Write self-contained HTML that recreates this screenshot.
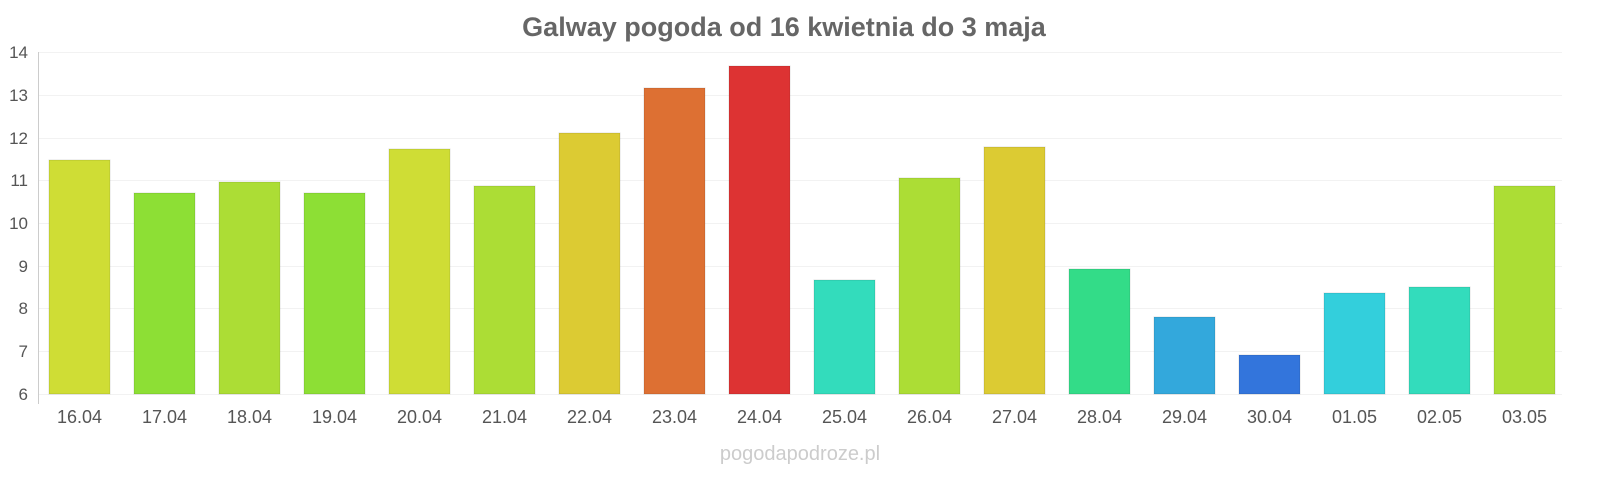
<!DOCTYPE html>
<html><head><meta charset="utf-8"><style>
body{margin:0;background:#fff;}
svg{display:block;font-family:"Liberation Sans",sans-serif;}
</style></head><body>
<svg width="1600" height="480" viewBox="0 0 1600 480">
<text x="784" y="36" text-anchor="middle" font-size="27" font-weight="bold" fill="#666">Galway pogoda od 16 kwietnia do 3 maja</text>
<g stroke="#f2f2f2" stroke-width="1">
<line x1="38" x2="1562" y1="52.5" y2="52.5"/><line x1="38" x2="1562" y1="95.5" y2="95.5"/>
<line x1="38" x2="1562" y1="138.5" y2="138.5"/><line x1="38" x2="1562" y1="180.5" y2="180.5"/>
<line x1="38" x2="1562" y1="223.5" y2="223.5"/><line x1="38" x2="1562" y1="266.5" y2="266.5"/>
<line x1="38" x2="1562" y1="308.5" y2="308.5"/><line x1="38" x2="1562" y1="351.5" y2="351.5"/>
<line x1="38" x2="1562" y1="394.5" y2="394.5"/>
</g>
<line x1="38.5" x2="38.5" y1="52" y2="404" stroke="#ccc"/>
<g font-size="17" fill="#555" text-anchor="end">
<text x="28" y="58">14</text><text x="28" y="101">13</text><text x="28" y="144">12</text>
<text x="28" y="186">11</text><text x="28" y="229">10</text><text x="28" y="272">9</text>
<text x="28" y="314">8</text><text x="28" y="357">7</text><text x="28" y="400">6</text>
</g>
<g stroke="rgba(0,0,0,0.12)" stroke-width="1">
<rect x="49" y="160" width="61" height="234" fill="#cfdd35"/>
<rect x="134" y="193" width="61" height="201" fill="#8ddf35"/>
<rect x="219" y="182" width="61" height="212" fill="#acdd35"/>
<rect x="304" y="193" width="61" height="201" fill="#8ddf35"/>
<rect x="389" y="149" width="61" height="245" fill="#cfdd35"/>
<rect x="474" y="186" width="61" height="208" fill="#acdd35"/>
<rect x="559" y="133" width="61" height="261" fill="#dccb33"/>
<rect x="644" y="88" width="61" height="306" fill="#dd7033"/>
<rect x="729" y="66" width="61" height="328" fill="#dd3333"/>
<rect x="814" y="280" width="61" height="114" fill="#33dcbc"/>
<rect x="899" y="178" width="61" height="216" fill="#acdd35"/>
<rect x="984" y="147" width="61" height="247" fill="#dccb33"/>
<rect x="1069" y="269" width="61" height="125" fill="#33dc88"/>
<rect x="1154" y="317" width="61" height="77" fill="#33a8dc"/>
<rect x="1239" y="355" width="61" height="39" fill="#3375dc"/>
<rect x="1324" y="293" width="61" height="101" fill="#33cfdc"/>
<rect x="1409" y="287" width="61" height="107" fill="#33dcbc"/>
<rect x="1494" y="186" width="61" height="208" fill="#acdd35"/>
</g>
<g font-size="18" fill="#555" text-anchor="middle">
<text x="79.5" y="423">16.04</text><text x="164.5" y="423">17.04</text><text x="249.5" y="423">18.04</text>
<text x="334.5" y="423">19.04</text><text x="419.5" y="423">20.04</text><text x="504.5" y="423">21.04</text>
<text x="589.5" y="423">22.04</text><text x="674.5" y="423">23.04</text><text x="759.5" y="423">24.04</text>
<text x="844.5" y="423">25.04</text><text x="929.5" y="423">26.04</text><text x="1014.5" y="423">27.04</text>
<text x="1099.5" y="423">28.04</text><text x="1184.5" y="423">29.04</text><text x="1269.5" y="423">30.04</text>
<text x="1354.5" y="423">01.05</text><text x="1439.5" y="423">02.05</text><text x="1524.5" y="423">03.05</text>
</g>
<text x="800" y="460" text-anchor="middle" font-size="20" fill="#ccc">pogodapodroze.pl</text>
</svg>
</body></html>
